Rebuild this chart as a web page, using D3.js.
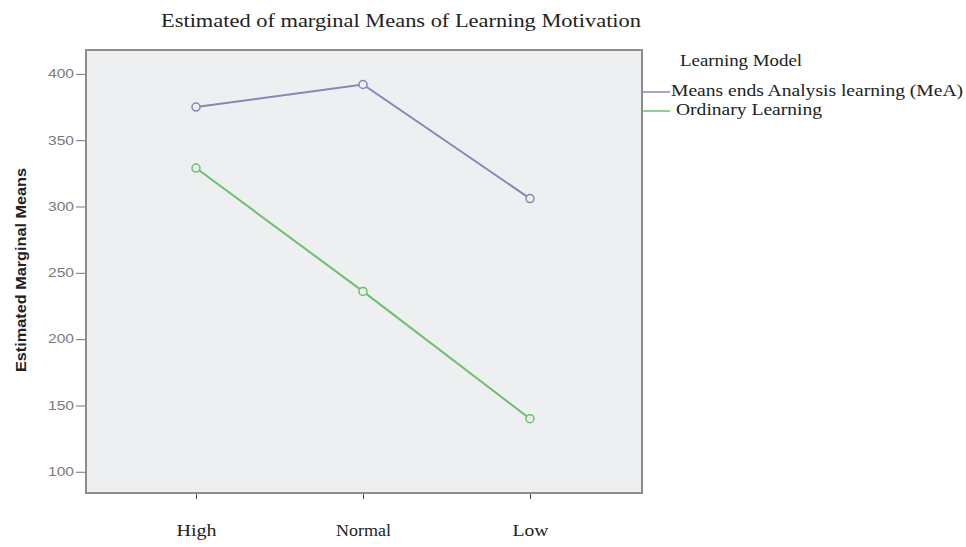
<!DOCTYPE html>
<html>
<head>
<meta charset="utf-8">
<script src="https://cdn.jsdelivr.net/npm/d3@7"></script>
<style>
  body { margin: 0; background: #fff; }
  svg text { font-family: "Liberation Serif", "Times New Roman", serif; }
</style>
</head>
<body>
<div id="chart"></div>
<script>
// data
const categories = ["High", "Normal", "Low"];
const meaValues = [375, 392, 306];
const ordinaryValues = [329, 236, 140];
const yTicks = [100, 150, 200, 250, 300, 350, 400];
const seriesNames = ["Means ends Analysis learning (MeA)", "Ordinary Learning"];
const seriesColors = ["#8488b8", "#6cc06c"];

const width = 966, height = 547;
const plot = { left: 86, top: 50, right: 642, bottom: 493 };

const svg = d3.select("#chart").append("svg")
  .attr("width", width).attr("height", height);

// plot frame
svg.append("rect")
  .attr("x", plot.left).attr("y", plot.top)
  .attr("width", plot.right - plot.left).attr("height", plot.bottom - plot.top)
  .attr("fill", "#eeeff1")
  .attr("stroke", "#8c8c8c")
  .attr("stroke-width", 2);

const x = d3.scalePoint().domain(categories).range([196, 530]);
const y = d3.scaleLinear().domain([84, 418]).range([plot.bottom, plot.top]);

// Axes
const yAxis = svg.append("g").attr("transform", `translate(${plot.left - 1},0)`)
  .call(d3.axisLeft(y).tickValues(yTicks).tickSize(9).tickPadding(2));
yAxis.select(".domain").remove();
yAxis.selectAll(".tick line").attr("stroke", "#777");
yAxis.selectAll(".tick text")
  .style("font-family", "'Liberation Sans', Arial, sans-serif")
  .style("font-size", "12px").attr("fill", "#7a7a7a")
  .attr("textLength", 26).attr("lengthAdjust", "spacingAndGlyphs");

const xAxis = svg.append("g").attr("transform", `translate(0,${plot.bottom + 1})`)
  .call(d3.axisBottom(x).tickSize(5).tickPadding(26));
xAxis.select(".domain").remove();
xAxis.selectAll(".tick line").attr("stroke", "#444");
const xLabelWidths = { High: 40, Normal: 55, Low: 36 };
xAxis.selectAll(".tick text")
  .style("font-family", "'Liberation Serif', 'Times New Roman', serif")
  .style("font-size", "16px").attr("fill", "#222")
  .attr("textLength", d => xLabelWidths[d]).attr("lengthAdjust", "spacingAndGlyphs");

// Lines and markers
const line = d3.line()
  .x((d, i) => x(categories[i]))
  .y(d => y(d));

[meaValues, ordinaryValues].forEach((vals, s) => {
  svg.append("path")
    .datum(vals)
    .attr("fill", "none")
    .attr("stroke", seriesColors[s])
    .attr("stroke-width", 2)
    .attr("d", line);
  svg.selectAll(".dot" + s)
    .data(vals).enter().append("circle")
    .attr("cx", (d, i) => x(categories[i]))
    .attr("cy", d => y(d))
    .attr("r", 4)
    .attr("fill", "#eeeff1")
    .attr("stroke", seriesColors[s])
    .attr("stroke-width", 1.5);
});

// Title
svg.append("text")
  .attr("x", 161).attr("y", 27)
  .style("font-size", "19px").attr("fill", "#222")
  .attr("textLength", 480).attr("lengthAdjust", "spacingAndGlyphs")
  .text("Estimated of marginal Means of Learning Motivation");

// Y axis title
svg.append("text")
  .attr("transform", "translate(26,270) rotate(-90)")
  .attr("text-anchor", "middle")
  .style("font-family", "'Liberation Sans Narrow', 'Arial Narrow', Arial, sans-serif")
  .style("font-size", "15px").style("font-weight", "bold").attr("fill", "#222")
  .attr("textLength", 204).attr("lengthAdjust", "spacingAndGlyphs")
  .text("Estimated Marginal Means");

// Legend
svg.append("text")
  .attr("x", 680).attr("y", 66)
  .style("font-size", "16px").attr("fill", "#222")
  .attr("textLength", 122).attr("lengthAdjust", "spacingAndGlyphs")
  .text("Learning Model");

const legendY = [92, 111];
const legendWidths = [292, 146];
seriesNames.forEach((name, i) => {
  svg.append("line")
    .attr("x1", plot.right + 1).attr("x2", 670)
    .attr("y1", legendY[i]).attr("y2", legendY[i])
    .attr("stroke", seriesColors[i]).attr("stroke-width", 1.5);
  svg.append("text")
    .attr("x", i === 0 ? 671 : 676).attr("y", legendY[i] + 4)
    .style("font-size", "16px").attr("fill", "#222")
    .attr("textLength", legendWidths[i]).attr("lengthAdjust", "spacingAndGlyphs")
    .text(name);
});
</script>
</body>
</html>
